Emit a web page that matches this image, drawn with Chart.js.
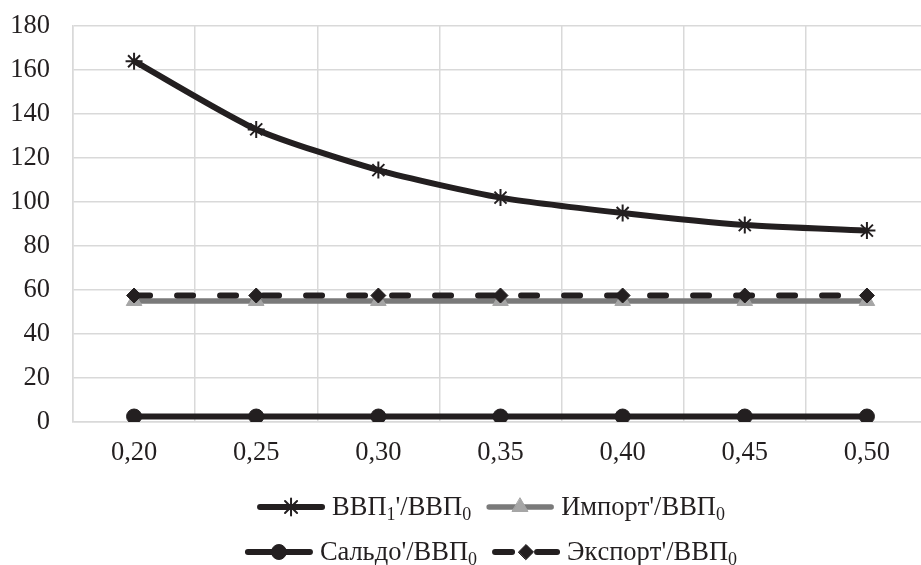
<!DOCTYPE html>
<html>
<head>
<meta charset="utf-8">
<script src="https://cdn.jsdelivr.net/npm/chart.js@4/dist/chart.umd.min.js"></script>
<style>
    html, body { margin: 0; padding: 0; background: #fff; overflow: hidden; }
    #probe { position: absolute; left: 0; top: 600px; font: 26px "Liberation Serif"; }
</style>
</head>
<body>
<canvas id="ratioChart" width="940" height="565"></canvas>
<div id="probe">ВВП Импорт Сальдо Экспорт 0,20 180</div>
<script>
// Data
const categories = ['0,20', '0,25', '0,30', '0,35', '0,40', '0,45', '0,50'];
const gdpValues = [164, 133, 114.5, 102, 95, 89.5, 87];
const importValues = [55, 55, 55, 55, 55, 55, 55];
const saldoValues = [2.5, 2.5, 2.5, 2.5, 2.5, 2.5, 2.5];
const exportValues = [57.5, 57.5, 57.5, 57.5, 57.5, 57.5, 57.5];
const seriesNames = ['ВВП₁\'/ВВП₀', 'Импорт\'/ВВП₀', 'Сальдо\'/ВВП₀', 'Экспорт\'/ВВП₀'];

const FONT = '"Liberation Serif"';
const SUBS = { '₀': '0', '₁': '1' };

// draws text, turning ₀/₁ into smaller lowered digits; returns width
function richText(ctx, text, x, y, draw) {
    let w = 0;
    for (const ch of text) {
        const sub = SUBS[ch];
        ctx.font = (sub ? '18px ' : '26.5px ') + FONT;
        const c = sub || ch;
        if (draw) ctx.fillText(c, x + w, y + (sub ? 5 : 0));
        w += ctx.measureText(c).width;
    }
    return w;
}

const rowLegend = {
    id: 'rowLegend',
    afterDraw(chart) {
        const ctx = chart.ctx;
        const rows = [[0, 1], [2, 3]];
        const rowY = [507, 552];
        const symW = 68, gap = 7, itemGap = 15, centerX = 491;
        ctx.save();
        ctx.textBaseline = 'alphabetic';
        rows.forEach((row, r) => {
            const widths = row.map(i => symW + gap + richText(ctx, chart.data.datasets[i].label, 0, 0, false));
            const total = widths.reduce((a, b) => a + b, 0) + itemGap * (row.length - 1);
            let x = centerX - total / 2;
            const y = rowY[r];
            row.forEach((i, k) => {
                const ds = chart.data.datasets[i];
                ctx.save();
                ctx.strokeStyle = ds.borderColor;
                ctx.lineWidth = ds.borderWidth;
                ctx.lineCap = 'round';
                ctx.beginPath();
                if (ds.borderDash) {
                    ctx.moveTo(x + 3, y); ctx.lineTo(x + 20, y);
                    ctx.moveTo(x + symW - 23, y); ctx.lineTo(x + symW - 3, y);
                } else {
                    ctx.moveTo(x + 3, y); ctx.lineTo(x + symW - 3, y);
                }
                ctx.stroke();
                ctx.fillStyle = ds.pointBackgroundColor;
                ctx.strokeStyle = ds.pointBorderColor;
                ctx.lineWidth = ds.pointBorderWidth;
                Chart.helpers.drawPoint(ctx, { pointStyle: ds.pointStyle, radius: ds.pointRadius, borderWidth: ds.pointBorderWidth, rotation: 0 }, x + symW / 2, y);
                ctx.restore();
                ctx.fillStyle = '#231f20';
                richText(ctx, ds.label, x + symW + gap, y + 8, true);
                x += widths[k] + itemGap;
            });
        });
        ctx.restore();
    }
};

const ctx = document.getElementById('ratioChart').getContext('2d');
const chart = new Chart(ctx, {
    type: 'line',
    data: {
        labels: categories,
        datasets: [
            {
                label: seriesNames[0], data: gdpValues,
                borderColor: '#231f20', borderWidth: 6, tension: 0.22,
                pointStyle: 'star', pointRadius: 8.5, pointBorderColor: '#231f20',
                pointBackgroundColor: '#231f20', pointBorderWidth: 2, order: 1
            },
            {
                label: seriesNames[1], data: importValues,
                borderColor: '#7a7a7a', borderWidth: 5.5,
                pointStyle: 'triangle', pointRadius: 9, pointBorderColor: '#a6a6a6',
                pointBackgroundColor: '#a6a6a6', pointBorderWidth: 1, order: 3
            },
            {
                label: seriesNames[2], data: saldoValues,
                borderColor: '#231f20', borderWidth: 6,
                pointStyle: 'circle', pointRadius: 7.5, pointBorderColor: '#231f20',
                pointBackgroundColor: '#231f20', pointBorderWidth: 1, order: 2
            },
            {
                label: seriesNames[3], data: exportValues,
                borderColor: '#231f20', borderWidth: 6,
                borderDash: [16, 27], borderCapStyle: 'round',
                pointStyle: 'rectRot', pointRadius: 7.5, pointBorderColor: '#231f20',
                pointBackgroundColor: '#231f20', pointBorderWidth: 1, order: 0
            }
        ]
    },
    options: {
        responsive: false,
        animation: false,
        layout: { padding: { top: 26, left: 0, right: 12, bottom: 0 } },
        plugins: { legend: { display: false }, tooltip: { enabled: false } },
        scales: {
            x: {
                offset: true,
                grid: { color: '#d9d9d9', lineWidth: 1.5, drawTicks: false, offset: true },
                border: { color: '#d9d9d9', width: 1.5 },
                ticks: { color: '#231f20', font: { family: FONT, size: 26.5 }, padding: 15, maxRotation: 0 },
                afterFit(scale) { scale.height = 143; scale.paddingLeft = 0; scale.paddingRight = 0; }
            },
            y: {
                min: 0, max: 180,
                grid: { color: '#d9d9d9', lineWidth: 1.5, drawTicks: false },
                border: { color: '#d9d9d9', width: 1.5 },
                ticks: { stepSize: 20, color: '#231f20', font: { family: FONT, size: 26.5 }, padding: 23 },
                afterFit(scale) { scale.width = 73; scale.paddingTop = 0; scale.paddingBottom = 0; }
            }
        }
    },
    plugins: [rowLegend]
});

// redraw once the serif face is surely available to the canvas
document.fonts.load('26px "Liberation Serif"', 'ВВП0,2').then(() => chart.update());
</script>
</body>
</html>
